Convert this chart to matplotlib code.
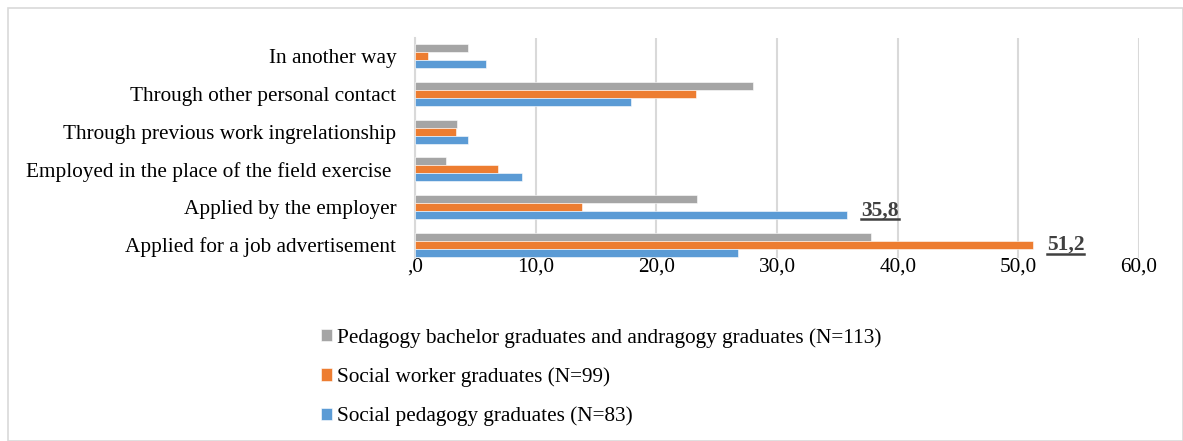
import matplotlib
matplotlib.use("Agg")
import matplotlib.pyplot as plt
from matplotlib.patches import Rectangle
from matplotlib.lines import Line2D
import numpy as np

plt.rcParams['font.family'] = ['Liberation Serif', 'DejaVu Serif']

categories = ["Applied for a job advertisement",
              "Applied by the employer",
              "Employed in the place of the field exercise ",
              "Through previous work ingrelationship",
              "Through other personal contact",
              "In another way"]
pedagogy = [37.8, 23.4, 2.6, 3.5, 28.0, 4.4]
social_worker = [51.2, 13.8, 6.9, 3.4, 23.3, 1.1]
social_pedagogy = [26.8, 35.8, 8.9, 4.4, 17.9, 5.9]
series_names = ["Pedagogy bachelor graduates and andragogy graduates (N=113)",
                "Social worker graduates (N=99)",
                "Social pedagogy graduates (N=83)"]
colors = ["#A5A5A5", "#ED7D31", "#5B9BD5"]
xticks = [0, 10, 20, 30, 40, 50, 60]
xticklabels = [",0", "10,0", "20,0", "30,0", "40,0", "50,0", "60,0"]

W, H = 1183, 441
fig = plt.figure(figsize=(W/100, H/100), dpi=100)
ax = fig.add_axes([415/W, 1-258/H, (1139-415)/W, (258-38)/H])

y = np.arange(len(categories))
h = 0.21
series = [pedagogy, social_worker, social_pedagogy]
for i, (vals, c, name) in enumerate(zip(series, colors, series_names)):
    ax.barh(y + (1 - i) * h, vals, height=h, color=c, label=name,
            edgecolor='white', linewidth=0.4, zorder=3)

ax.set_ylim(-0.344, 5.476)
ax.set_xlim(0, 60)
ax.set_yticks(y)
ax.set_yticklabels(categories, fontsize=15.3, color='#000000')
ax.set_xticks(xticks)
ax.set_xticklabels(xticklabels, fontsize=15.3, color='#000000')
ax.tick_params(axis='x', length=0, pad=0)
ax.tick_params(axis='y', length=0, pad=13.5)
ax.grid(axis='x', color='#D9D9D9', linewidth=1.5, zorder=0)
for s in ['top', 'right', 'bottom']:
    ax.spines[s].set_visible(False)
ax.spines['left'].set_color('#D9D9D9')
ax.spines['left'].set_linewidth(1.5)

# data labels (bold, underlined)
lab_style = dict(fontsize=15.5, color='#404040', va='center', ha='left', fontweight='bold')
t1 = ax.annotate('35,8', (social_pedagogy[1], y[1] - h),
                 xytext=(10, 3.5), textcoords='offset points', **lab_style)
t2 = ax.annotate('51,2', (social_worker[0], y[0]),
                 xytext=(10, 0), textcoords='offset points', **lab_style)

leg = fig.legend(loc='upper left', bbox_to_anchor=(321/W, 1-328/H),
                 frameon=False, fontsize=15.3, handlelength=0.52, handleheight=0.52,
                 handletextpad=0.23, labelspacing=0.92, borderaxespad=0, borderpad=0)

fig.patches.append(Rectangle((8/W, 0), 1 - 8/W, 1 - 8/H, transform=fig.transFigure,
                             fill=False, edgecolor='#D9D9D9', linewidth=1.2))

fig.canvas.draw()
r = fig.canvas.get_renderer()
for t in (t1, t2):
    bb = t.get_window_extent(r)
    yy = bb.y0 + 1
    fig.add_artist(Line2D([bb.x0, bb.x1], [yy, yy], transform=None,
                          color='#404040', linewidth=1.8))

fig.savefig("out.png", dpi=100)
